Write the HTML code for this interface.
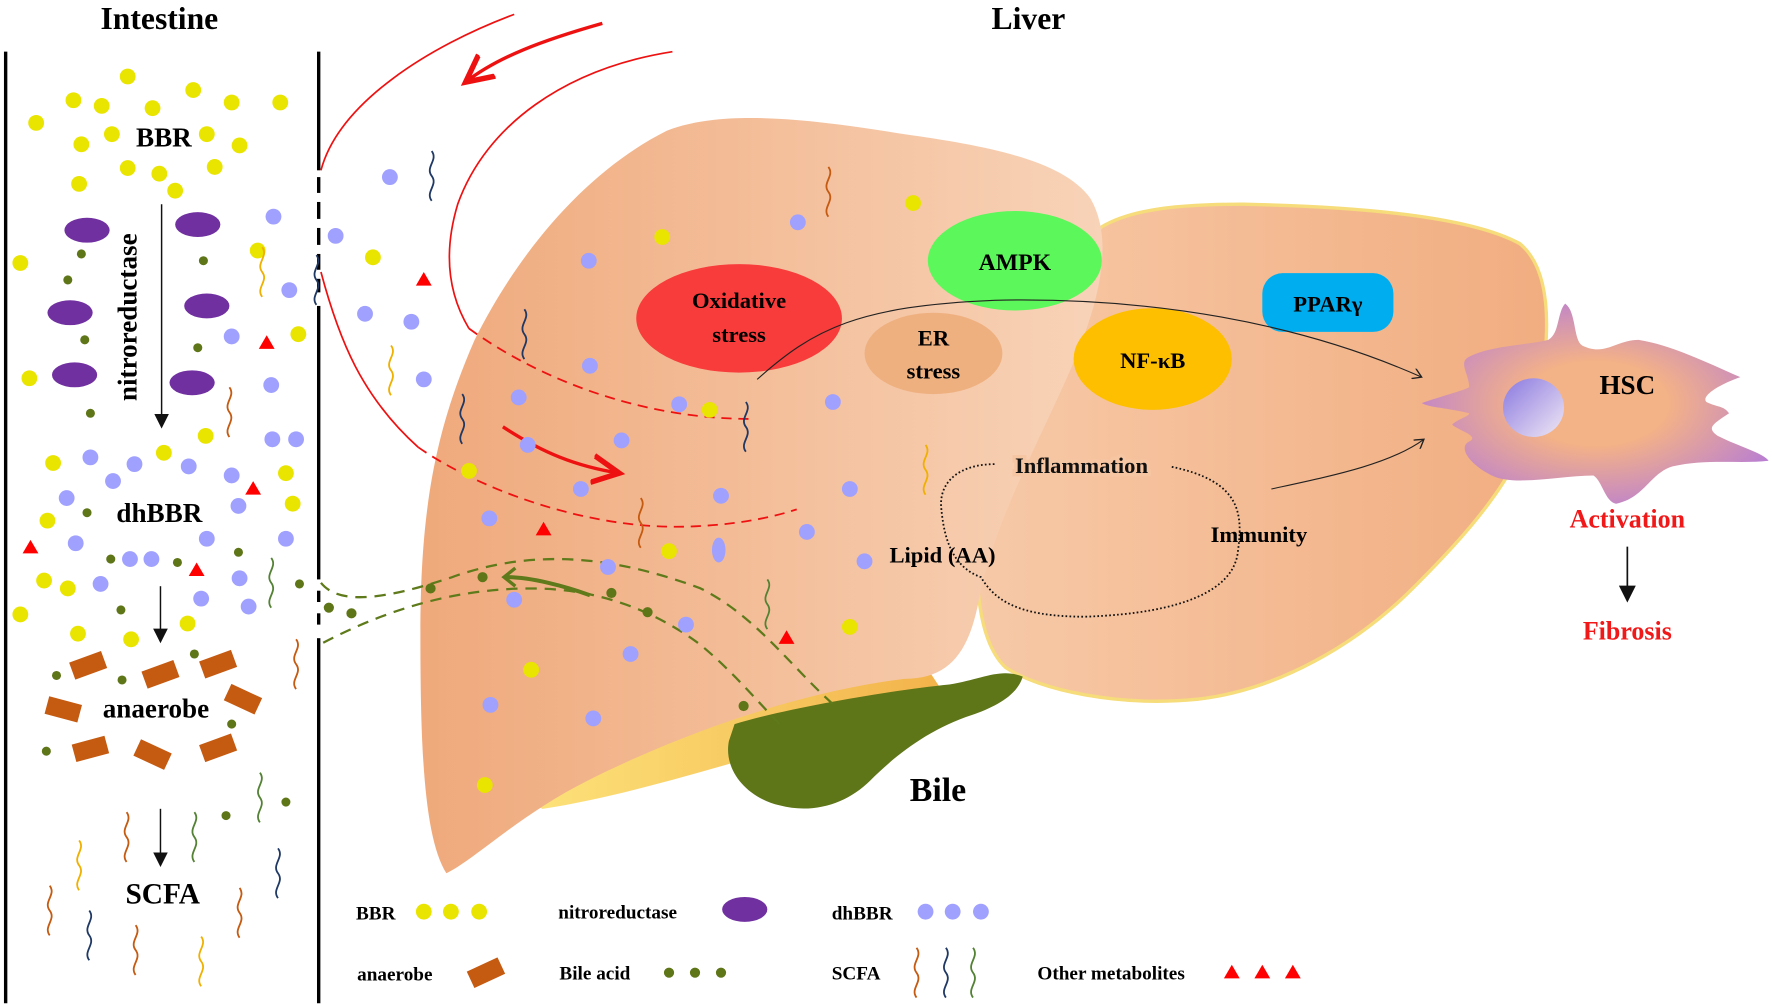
<!DOCTYPE html>
<html><head><meta charset="utf-8"><style>
html,body{margin:0;padding:0;background:#fff;}
svg{display:block;}
text{font-family:"Liberation Serif",serif;font-weight:bold;}
</style></head><body>
<svg width="1772" height="1004" viewBox="0 0 1568 887" xmlns="http://www.w3.org/2000/svg">
<defs>
<linearGradient id="ll" x1="0" x2="1" y1="0" y2="0"><stop offset="0" stop-color="#efa97b"/><stop offset="1" stop-color="#f8d3b8"/></linearGradient>
<linearGradient id="rl" x1="0" x2="1" y1="0" y2="0"><stop offset="0" stop-color="#f7c9a7"/><stop offset="1" stop-color="#f1ad80"/></linearGradient>
<radialGradient id="hsc" cx="0.5" cy="0.5" r="0.6"><stop offset="0.35" stop-color="#f4b287"/><stop offset="1" stop-color="#b47ad8"/></radialGradient>
<linearGradient id="nuc" x1="0" y1="0" x2="1" y2="1"><stop offset="0" stop-color="#8a78e0"/><stop offset="1" stop-color="#f0e8f4"/></linearGradient>
<linearGradient id="yb" x1="0" x2="1"><stop offset="0" stop-color="#fde27a"/><stop offset="1" stop-color="#f3b24a"/></linearGradient>
<path id="sq" d="M0,0 c6,8 -6,14 0,22 c6,8 -6,14 0,22" fill="none" stroke-width="1.6"/>
<marker id="ah" markerWidth="10" markerHeight="10" refX="8" refY="5" orient="auto"><path d="M0,0 L8,5 L0,10" fill="none" stroke="#222" stroke-width="1.2"/></marker>
<marker id="ra" markerWidth="10" markerHeight="10" refX="8" refY="5" orient="auto"><path d="M0,1 L8,5 L0,9" fill="none" stroke="#e11" stroke-width="1.6"/></marker>
<marker id="ba" markerWidth="10" markerHeight="10" refX="5" refY="5" orient="auto"><path d="M0,0 L10,5 L0,10z" fill="#111"/></marker>
</defs>

<text x="141" y="25" font-size="28" text-anchor="middle">Intestine</text>
<text x="910" y="25" font-size="28" text-anchor="middle">Liver</text>

<line x1="5" y1="45" x2="5" y2="887" stroke="#000" stroke-width="3"/>
<line x1="282" y1="45" x2="282" y2="887" stroke="#000" stroke-width="3"/>
<rect x="278" y="150" width="8" height="6" fill="#fff"/><rect x="278" y="170" width="8" height="8" fill="#fff"/><rect x="278" y="193" width="8" height="8" fill="#fff"/><rect x="278" y="216" width="8" height="8" fill="#fff"/><rect x="278" y="238" width="8" height="8" fill="#fff"/><rect x="278" y="258" width="8" height="12" fill="#fff"/>
<rect x="278" y="512" width="8" height="10" fill="#fff"/><rect x="278" y="532" width="8" height="10" fill="#fff"/><rect x="278" y="552" width="8" height="12" fill="#fff"/>

<path d="M470,710 C560,660 700,610 820,590 L840,620 C720,650 580,700 480,715 Z" fill="url(#yb)"/>
<path d="M975,200 C1000,185 1040,180 1100,180 C1200,182 1300,190 1345,215 C1375,240 1372,300 1360,360 C1345,420 1300,470 1250,520 C1200,570 1130,610 1060,618 C990,625 920,610 890,590 C868,570 862,520 866,480 C875,400 900,330 935,260 C950,230 960,210 975,200 Z" fill="url(#rl)" stroke="#f6dc7a" stroke-width="3"/>
<path d="M395,772 C375,740 372,660 372,560 C372,450 385,380 420,300 C460,220 520,150 590,115 C640,95 720,105 800,118 C870,128 940,140 965,175 C985,210 975,260 950,320 C920,390 885,450 868,520 C860,570 845,600 800,600 C720,610 620,640 520,690 C460,720 420,760 395,772 Z" fill="url(#ll)"/>
<path d="M650,640 C700,625 790,610 840,605 C870,600 885,590 905,598 C900,615 880,625 860,632 C820,645 790,670 770,690 C750,710 720,720 690,712 C660,705 640,680 645,655 Z" fill="#5e7518"/>
<text x="830" y="708" font-size="30" text-anchor="middle">Bile</text>

<path d="M1385,268 C1395,275 1392,300 1400,305 C1420,315 1430,300 1450,300 C1480,305 1510,320 1540,333 C1520,340 1505,350 1510,355 C1520,360 1525,358 1530,365 C1515,375 1510,378 1520,385 C1540,395 1560,400 1565,407 C1540,410 1510,405 1480,412 C1460,418 1455,440 1430,445 C1420,443 1418,425 1410,420 C1380,420 1340,430 1320,420 C1300,410 1290,395 1300,390 C1310,385 1290,380 1285,375 C1290,370 1300,368 1300,365 C1280,360 1265,360 1258,356 C1275,350 1295,345 1300,342 C1300,330 1290,320 1300,315 C1320,305 1350,305 1370,300 C1380,295 1378,275 1385,268 Z" fill="url(#hsc)"/>
<ellipse cx="1357" cy="360" rx="27" ry="26" fill="url(#nuc)"/>
<text x="1440" y="348" font-size="24" text-anchor="middle">HSC</text>
<text x="1440" y="466" font-size="23" text-anchor="middle" fill="#f01818">Activation</text>
<line x1="1440" y1="483" x2="1440" y2="525" stroke="#111" stroke-width="1.5" marker-end="url(#ba)"/>
<text x="1440" y="565" font-size="23" text-anchor="middle" fill="#f01818">Fibrosis</text>

<ellipse cx="898" cy="230" rx="77" ry="44" fill="#5cf75a"/>
<text x="898" y="238" font-size="21" text-anchor="middle">AMPK</text>
<ellipse cx="654" cy="281" rx="91" ry="48" fill="#f83b3b"/>
<text x="654" y="272" font-size="20" text-anchor="middle">Oxidative</text>
<text x="654" y="302" font-size="20" text-anchor="middle">stress</text>
<ellipse cx="826" cy="312" rx="61" ry="36" fill="#efb080"/>
<text x="826" y="305" font-size="20" text-anchor="middle">ER</text>
<text x="826" y="334" font-size="20" text-anchor="middle">stress</text>
<ellipse cx="1020" cy="317" rx="70" ry="45" fill="#fdbf00"/>
<text x="1020" y="325" font-size="20" text-anchor="middle">NF-κB</text>
<rect x="1117" y="241" width="116" height="52" rx="18" fill="#00aeef"/>
<text x="1175" y="275" font-size="20" text-anchor="middle">PPARγ</text>

<path d="M670,335 C720,290 760,270 880,265 C1020,262 1150,285 1258,333" fill="none" stroke="#222" stroke-width="1" marker-end="url(#ah)"/>
<path d="M1125,432 C1180,420 1230,410 1260,388" fill="none" stroke="#222" stroke-width="1" marker-end="url(#ah)"/>
<path d="M880,410 C850,410 830,425 833,450 C835,470 840,500 868,510 C880,530 900,545 960,545 C1050,542 1090,520 1095,490 C1100,455 1100,425 1035,412" fill="none" stroke="#111" stroke-width="1.6" stroke-dasharray="1.5,2"/>
<text x="957" y="418" font-size="20" text-anchor="middle" fill="#111" style="paint-order:stroke" stroke="#f6c6a3" stroke-width="6">Inflammation</text>
<text x="834" y="497" font-size="20" text-anchor="middle">Lipid (AA)</text>
<text x="1114" y="479" font-size="20" text-anchor="middle">Immunity</text>

<path d="M455,12 C380,40 300,90 284,150" fill="none" stroke="#e11" stroke-width="1.5"/>
<path d="M595,45 C500,60 430,110 405,180 C390,230 400,265 415,290" fill="none" stroke="#e11" stroke-width="1.5"/>
<path d="M284,240 C300,300 320,350 370,395" fill="none" stroke="#e11" stroke-width="1.5"/>
<path d="M533,20 C480,35 440,50 412,72" fill="none" stroke="#e11" stroke-width="3" marker-end="url(#ra)"/>
<path d="M415,290 C470,330 560,370 665,370" fill="none" stroke="#e11" stroke-width="1.6" stroke-dasharray="9,6"/>
<path d="M370,395 C420,430 520,470 615,465 C660,463 690,455 705,450" fill="none" stroke="#e11" stroke-width="1.6" stroke-dasharray="9,6"/>
<path d="M445,377 C480,400 510,412 548,418" fill="none" stroke="#e11" stroke-width="3" marker-end="url(#ra)"/>

<g fill="none" stroke="#5e7a1a" stroke-width="2" stroke-dasharray="10,7">
<path d="M284,515 C300,535 340,530 400,510 C470,485 540,490 620,520 C670,545 700,590 740,625"/>
<path d="M286,568 C340,540 400,520 470,520 C530,520 580,540 620,570 C650,595 670,620 690,640"/>
</g>
<path d="M522,526 C500,518 470,510 448,510" fill="none" stroke="#5e7a1a" stroke-width="3.5"/>
<path d="M456,502 L446,510 L456,518" fill="none" stroke="#5e7a1a" stroke-width="3"/>

<g fill="#5e7518">
<circle cx="291" cy="537" r="4.5"/><circle cx="311" cy="542" r="4.5"/><circle cx="381" cy="520" r="4.5"/><circle cx="427" cy="510" r="4.5"/><circle cx="541" cy="524" r="4.5"/><circle cx="573" cy="541" r="4.5"/><circle cx="658" cy="624" r="4.5"/>
<circle cx="72" cy="224" r="4"/><circle cx="180" cy="230" r="4"/><circle cx="60" cy="247" r="4"/><circle cx="75" cy="300" r="4"/><circle cx="175" cy="307" r="4"/><circle cx="80" cy="365" r="4"/><circle cx="77" cy="453" r="4"/><circle cx="98" cy="494" r="4"/><circle cx="157" cy="497" r="4"/><circle cx="211" cy="488" r="4"/><circle cx="265" cy="516" r="4"/><circle cx="107" cy="539" r="4"/><circle cx="172" cy="578" r="4"/><circle cx="50" cy="597" r="4"/><circle cx="108" cy="601" r="4"/><circle cx="205" cy="640" r="4"/><circle cx="41" cy="664" r="4"/><circle cx="200" cy="721" r="4"/><circle cx="253" cy="709" r="4"/>
<circle cx="592" cy="860" r="4.5"/><circle cx="615" cy="860" r="4.5"/><circle cx="638" cy="860" r="4.5"/>
</g>

<g fill="#e9e400">
<circle cx="113" cy="67" r="7"/><circle cx="65" cy="88" r="7"/><circle cx="90" cy="93" r="7"/><circle cx="135" cy="95" r="7"/><circle cx="171" cy="79" r="7"/><circle cx="205" cy="90" r="7"/><circle cx="248" cy="90" r="7"/><circle cx="32" cy="108" r="7"/><circle cx="72" cy="127" r="7"/><circle cx="99" cy="118" r="7"/><circle cx="183" cy="118" r="7"/><circle cx="212" cy="128" r="7"/><circle cx="113" cy="148" r="7"/><circle cx="141" cy="153" r="7"/><circle cx="190" cy="147" r="7"/><circle cx="70" cy="162" r="7"/><circle cx="155" cy="168" r="7"/><circle cx="18" cy="232" r="7"/><circle cx="228" cy="221" r="7"/><circle cx="264" cy="295" r="7"/><circle cx="26" cy="334" r="7"/><circle cx="182" cy="385" r="7"/><circle cx="47" cy="409" r="7"/><circle cx="145" cy="400" r="7"/><circle cx="253" cy="418" r="7"/><circle cx="259" cy="445" r="7"/><circle cx="42" cy="460" r="7"/><circle cx="39" cy="513" r="7"/><circle cx="60" cy="520" r="7"/><circle cx="18" cy="543" r="7"/><circle cx="166" cy="551" r="7"/><circle cx="69" cy="560" r="7"/><circle cx="116" cy="565" r="7"/>
<circle cx="330" cy="227" r="7"/><circle cx="586" cy="209" r="7"/><circle cx="808" cy="179" r="7"/><circle cx="628" cy="362" r="7"/><circle cx="415" cy="416" r="7"/><circle cx="592" cy="487" r="7"/><circle cx="752" cy="554" r="7"/><circle cx="470" cy="592" r="7"/><circle cx="429" cy="694" r="7"/>
<circle cx="375" cy="806" r="7"/><circle cx="399" cy="806" r="7"/><circle cx="424" cy="806" r="7"/>
</g>

<g fill="#a0a0ff">
<circle cx="242" cy="191" r="7"/><circle cx="297" cy="208" r="7"/><circle cx="256" cy="256" r="7"/><circle cx="205" cy="297" r="7"/><circle cx="240" cy="340" r="7"/><circle cx="241" cy="388" r="7"/><circle cx="262" cy="388" r="7"/><circle cx="80" cy="404" r="7"/><circle cx="119" cy="410" r="7"/><circle cx="167" cy="412" r="7"/><circle cx="205" cy="420" r="7"/><circle cx="100" cy="425" r="7"/><circle cx="59" cy="440" r="7"/><circle cx="211" cy="447" r="7"/><circle cx="67" cy="480" r="7"/><circle cx="183" cy="476" r="7"/><circle cx="253" cy="476" r="7"/><circle cx="115" cy="494" r="7"/><circle cx="134" cy="494" r="7"/><circle cx="212" cy="511" r="7"/><circle cx="89" cy="516" r="7"/><circle cx="178" cy="529" r="7"/><circle cx="220" cy="536" r="7"/>
<circle cx="345" cy="156" r="7"/><circle cx="323" cy="277" r="7"/><circle cx="364" cy="284" r="7"/><circle cx="375" cy="335" r="7"/><circle cx="706" cy="196" r="7"/><circle cx="521" cy="230" r="7"/><circle cx="522" cy="323" r="7"/><circle cx="459" cy="351" r="7"/><circle cx="601" cy="357" r="7"/><circle cx="737" cy="355" r="7"/><circle cx="467" cy="393" r="7"/><circle cx="550" cy="389" r="7"/><circle cx="514" cy="432" r="7"/><circle cx="638" cy="438" r="7"/><circle cx="752" cy="432" r="7"/><circle cx="433" cy="458" r="7"/><circle cx="714" cy="470" r="7"/><ellipse cx="636" cy="486" rx="6" ry="11"/><circle cx="538" cy="501" r="7"/><circle cx="765" cy="496" r="7"/><circle cx="455" cy="530" r="7"/><circle cx="607" cy="552" r="7"/><circle cx="558" cy="578" r="7"/><circle cx="434" cy="623" r="7"/><circle cx="525" cy="635" r="7"/>
<circle cx="819" cy="806" r="7"/><circle cx="843" cy="806" r="7"/><circle cx="868" cy="806" r="7"/>
</g>

<g fill="#f00">
<path d="M236,296 l-7,12 h14z"/><path d="M224,425 l-7,12 h14z"/><path d="M27,477 l-7,12 h14z"/><path d="M174,497 l-7,12 h14z"/><path d="M375,240 l-7,12 h14z"/><path d="M481,461 l-7,12 h14z"/><path d="M696,557 l-7,12 h14z"/>
<path d="M1090,853 l-7,12 h14z"/><path d="M1117,853 l-7,12 h14z"/><path d="M1144,853 l-7,12 h14z"/>
</g>

<g fill="#7030a0">
<ellipse cx="77" cy="203" rx="20" ry="11"/><ellipse cx="175" cy="198" rx="20" ry="11"/><ellipse cx="62" cy="276" rx="20" ry="11"/><ellipse cx="183" cy="270" rx="20" ry="11"/><ellipse cx="66" cy="331" rx="20" ry="11"/><ellipse cx="170" cy="338" rx="20" ry="11"/><ellipse cx="659" cy="804" rx="20" ry="11"/>
</g>

<g fill="#c55a11">
<rect x="-15" y="-8" width="30" height="16" transform="translate(78,588) rotate(-20)"/>
<rect x="-15" y="-8" width="30" height="16" transform="translate(142,596) rotate(-20)"/>
<rect x="-15" y="-8" width="30" height="16" transform="translate(193,587) rotate(-20)"/>
<rect x="-15" y="-8" width="30" height="16" transform="translate(56,627) rotate(15)"/>
<rect x="-15" y="-8" width="30" height="16" transform="translate(215,618) rotate(25)"/>
<rect x="-15" y="-8" width="30" height="16" transform="translate(80,662) rotate(-15)"/>
<rect x="-15" y="-8" width="30" height="16" transform="translate(135,667) rotate(25)"/>
<rect x="-15" y="-8" width="30" height="16" transform="translate(193,661) rotate(-20)"/>
<rect x="-15" y="-8" width="30" height="16" transform="translate(430,860) rotate(-25)"/>
</g>

<g>
<use href="#sq" x="382" y="133" stroke="#1f3864"/><use href="#sq" x="733" y="147" stroke="#c55a11"/>
<use href="#sq" x="232" y="218" stroke="#f0b000"/><use href="#sq" x="280" y="225" stroke="#1f3864"/>
<use href="#sq" x="464" y="273" stroke="#1f3864"/><use href="#sq" x="346" y="305" stroke="#f0b000"/>
<use href="#sq" x="203" y="342" stroke="#c55a11"/><use href="#sq" x="409" y="348" stroke="#1f3864"/>
<use href="#sq" x="660" y="355" stroke="#1f3864"/><use href="#sq" x="819" y="393" stroke="#f0b000"/>
<use href="#sq" x="567" y="440" stroke="#c55a11"/><use href="#sq" x="240" y="493" stroke="#548235"/>
<use href="#sq" x="679" y="512" stroke="#548235"/><use href="#sq" x="262" y="565" stroke="#c55a11"/>
<use href="#sq" x="230" y="683" stroke="#548235"/><use href="#sq" x="112" y="718" stroke="#c55a11"/>
<use href="#sq" x="172" y="718" stroke="#548235"/><use href="#sq" x="70" y="743" stroke="#f0b000"/>
<use href="#sq" x="246" y="750" stroke="#1f3864"/><use href="#sq" x="44" y="783" stroke="#c55a11"/>
<use href="#sq" x="212" y="785" stroke="#c55a11"/><use href="#sq" x="79" y="805" stroke="#1f3864"/>
<use href="#sq" x="120" y="818" stroke="#c55a11"/><use href="#sq" x="178" y="828" stroke="#f0b000"/>
<use href="#sq" x="811" y="838" stroke="#c55a11"/><use href="#sq" x="837" y="838" stroke="#1f3864"/><use href="#sq" x="861" y="838" stroke="#548235"/>
</g>

<text x="145" y="129" font-size="24" text-anchor="middle">BBR</text>
<text x="121" y="280" font-size="24" text-anchor="middle" transform="rotate(-90,121,280)">nitroreductase</text>
<line x1="143" y1="180" x2="143" y2="372" stroke="#111" stroke-width="1.3" marker-end="url(#ba)"/>
<text x="141" y="461" font-size="24" text-anchor="middle">dhBBR</text>
<line x1="142" y1="518" x2="142" y2="562" stroke="#111" stroke-width="1.3" marker-end="url(#ba)"/>
<text x="138" y="634" font-size="24" text-anchor="middle">anaerobe</text>
<line x1="142" y1="715" x2="142" y2="760" stroke="#111" stroke-width="1.3" marker-end="url(#ba)"/>
<text x="144" y="799" font-size="26" text-anchor="middle">SCFA</text>

<g font-size="17">
<text x="315" y="813">BBR</text>
<text x="494" y="812">nitroreductase</text>
<text x="736" y="813">dhBBR</text>
<text x="316" y="867">anaerobe</text>
<text x="495" y="866">Bile acid</text>
<text x="736" y="866">SCFA</text>
<text x="918" y="866">Other metabolites</text>
</g>
</svg>
</body></html>
